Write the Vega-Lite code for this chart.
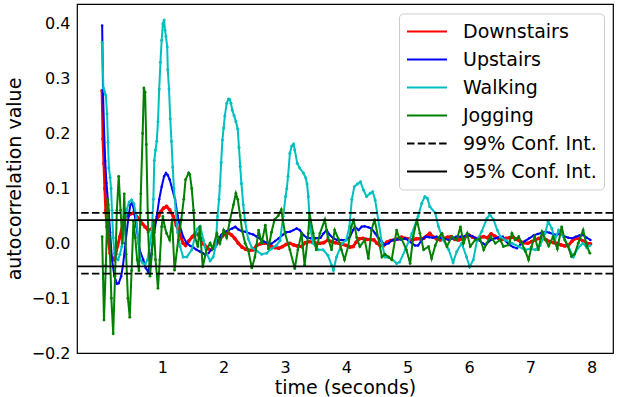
{
  "$schema": "https://vega.github.io/schema/vega-lite/v6.json",
  "autosize": "none",
  "width": 536,
  "height": 349,
  "padding": {"left": 77, "top": 4, "right": 5, "bottom": 44},
  "background": "white",
  "config": {
    "font": "DejaVu Sans",
    "view": {"stroke": "black", "strokeWidth": 1.2},
    "axis": {"grid": false, "domain": false, "ticks": false, "tickSize": 0, "labelFont": "DejaVu Sans", "titleFont": "DejaVu Sans", "labelColor": "black", "titleColor": "black", "titleFontWeight": "normal", "labelFontSize": 16, "titleFontSize": 19},
    "legend": {"orient": "none", "legendX": 322, "legendY": 9.5, "labelFont": "DejaVu Sans", "labelFontSize": 19, "labelColor": "black", "symbolType": "stroke", "symbolSize": 1600, "symbolStrokeWidth": 2, "clipHeight": 22, "rowPadding": 6, "padding": 7, "labelOffset": 15, "fillColor": "rgba(255,255,255,0.8)", "strokeColor": "#cccccc", "cornerRadius": 4}
  },
  "datasets": {
    "D": [{"t":0.02,"v":0.278},{"t":0.035,"v":0.19},{"t":0.05,"v":0.146},{"t":0.065,"v":0.1},{"t":0.08,"v":0.06},{"t":0.1,"v":0.03},{"t":0.12,"v":0.006},{"t":0.15,"v":-0.018},{"t":0.18,"v":-0.028},{"t":0.21,"v":-0.03},{"t":0.24,"v":-0.02},{"t":0.27,"v":-0.005},{"t":0.31,"v":0.012},{"t":0.36,"v":0.036},{"t":0.42,"v":0.052},{"t":0.47,"v":0.053},{"t":0.53,"v":0.055},{"t":0.58,"v":0.049},{"t":0.63,"v":0.043},{"t":0.68,"v":0.035},{"t":0.72,"v":0.03},{"t":0.77,"v":0.024},{"t":0.83,"v":0.026},{"t":0.88,"v":0.039},{"t":0.94,"v":0.049},{"t":0.98,"v":0.058},{"t":1.02,"v":0.064},{"t":1.07,"v":0.067},{"t":1.12,"v":0.061},{"t":1.18,"v":0.049},{"t":1.23,"v":0.033},{"t":1.29,"v":0.015},{"t":1.34,"v":0.0},{"t":1.38,"v":-0.004},{"t":1.43,"v":0.004},{"t":1.49,"v":0.012},{"t":1.54,"v":0.018},{"t":1.58,"v":0.016},{"t":1.63,"v":0.008},{"t":1.68,"v":-0.002},{"t":1.73,"v":-0.008},{"t":1.78,"v":-0.012},{"t":1.83,"v":-0.009},{"t":1.88,"v":-0.002},{"t":1.93,"v":0.006},{"t":1.98,"v":0.013},{"t":2.03,"v":0.017},{"t":2.08,"v":0.019},{"t":2.13,"v":0.015},{"t":2.18,"v":0.009},{"t":2.24,"v":0.0},{"t":2.3,"v":-0.007},{"t":2.36,"v":-0.011},{"t":2.42,"v":-0.013},{"t":2.48,"v":-0.012},{"t":2.54,"v":-0.004},{"t":2.6,"v":-0.001},{"t":2.66,"v":0.0},{"t":2.72,"v":0.0},{"t":2.78,"v":-0.006},{"t":2.84,"v":-0.008},{"t":2.9,"v":-0.009},{"t":2.96,"v":-0.006},{"t":3.02,"v":-0.002},{"t":3.08,"v":0.0},{"t":3.14,"v":-0.003},{"t":3.2,"v":-0.005},{"t":3.27,"v":-0.006},{"t":3.33,"v":0.001},{"t":3.39,"v":0.003},{"t":3.45,"v":0.002},{"t":3.51,"v":0.0},{"t":3.57,"v":0.0},{"t":3.63,"v":0.001},{"t":3.7,"v":0.006},{"t":3.76,"v":0.003},{"t":3.82,"v":0.001},{"t":3.88,"v":0.0},{"t":3.94,"v":-0.002},{"t":4.0,"v":-0.004},{"t":4.06,"v":-0.007},{"t":4.11,"v":-0.006},{"t":4.16,"v":0.002},{"t":4.21,"v":0.008},{"t":4.27,"v":0.009},{"t":4.33,"v":0.007},{"t":4.39,"v":0.007},{"t":4.45,"v":0.006},{"t":4.5,"v":0.0},{"t":4.55,"v":-0.004},{"t":4.6,"v":-0.005},{"t":4.66,"v":0.002},{"t":4.72,"v":0.005},{"t":4.78,"v":0.006},{"t":4.84,"v":0.008},{"t":4.9,"v":0.011},{"t":4.96,"v":0.009},{"t":5.02,"v":0.008},{"t":5.08,"v":0.006},{"t":5.14,"v":0.008},{"t":5.2,"v":0.008},{"t":5.26,"v":0.009},{"t":5.32,"v":0.014},{"t":5.36,"v":0.018},{"t":5.41,"v":0.012},{"t":5.47,"v":0.008},{"t":5.53,"v":0.006},{"t":5.59,"v":0.009},{"t":5.65,"v":0.011},{"t":5.71,"v":0.012},{"t":5.77,"v":0.007},{"t":5.83,"v":0.006},{"t":5.89,"v":0.008},{"t":5.95,"v":0.013},{"t":6.0,"v":0.015},{"t":6.06,"v":0.011},{"t":6.12,"v":0.008},{"t":6.18,"v":0.011},{"t":6.24,"v":0.012},{"t":6.3,"v":0.01},{"t":6.36,"v":0.017},{"t":6.42,"v":0.013},{"t":6.48,"v":0.009},{"t":6.54,"v":0.007},{"t":6.6,"v":0.009},{"t":6.66,"v":0.01},{"t":6.72,"v":0.011},{"t":6.78,"v":0.007},{"t":6.84,"v":0.003},{"t":6.9,"v":0.001},{"t":6.96,"v":0.0},{"t":7.02,"v":0.003},{"t":7.08,"v":0.006},{"t":7.14,"v":0.009},{"t":7.2,"v":0.009},{"t":7.26,"v":0.006},{"t":7.32,"v":0.003},{"t":7.38,"v":0.001},{"t":7.44,"v":0.0},{"t":7.5,"v":-0.003},{"t":7.56,"v":-0.005},{"t":7.62,"v":-0.004},{"t":7.68,"v":0.004},{"t":7.74,"v":0.009},{"t":7.8,"v":0.008},{"t":7.86,"v":0.004},{"t":7.92,"v":0.0},{"t":7.98,"v":-0.001}],
    "U": [{"t":0.02,"v":0.397},{"t":0.035,"v":0.27},{"t":0.05,"v":0.21},{"t":0.07,"v":0.15},{"t":0.09,"v":0.11},{"t":0.12,"v":0.07},{"t":0.15,"v":0.02},{"t":0.18,"v":-0.03},{"t":0.22,"v":-0.06},{"t":0.26,"v":-0.074},{"t":0.29,"v":-0.073},{"t":0.33,"v":-0.06},{"t":0.36,"v":-0.04},{"t":0.4,"v":0.0},{"t":0.45,"v":0.049},{"t":0.48,"v":0.07},{"t":0.51,"v":0.073},{"t":0.54,"v":0.06},{"t":0.58,"v":0.03},{"t":0.63,"v":-0.012},{"t":0.69,"v":-0.03},{"t":0.73,"v":-0.045},{"t":0.77,"v":-0.052},{"t":0.8,"v":-0.035},{"t":0.83,"v":-0.012},{"t":0.87,"v":0.02},{"t":0.91,"v":0.049},{"t":0.95,"v":0.08},{"t":0.99,"v":0.103},{"t":1.03,"v":0.122},{"t":1.06,"v":0.128},{"t":1.09,"v":0.124},{"t":1.12,"v":0.116},{"t":1.16,"v":0.1},{"t":1.21,"v":0.079},{"t":1.25,"v":0.05},{"t":1.29,"v":0.03},{"t":1.34,"v":0.012},{"t":1.4,"v":0.0},{"t":1.46,"v":-0.005},{"t":1.51,"v":-0.008},{"t":1.56,"v":-0.012},{"t":1.61,"v":-0.015},{"t":1.66,"v":-0.018},{"t":1.7,"v":-0.021},{"t":1.75,"v":-0.018},{"t":1.8,"v":-0.012},{"t":1.85,"v":-0.003},{"t":1.91,"v":0.006},{"t":1.96,"v":0.015},{"t":2.02,"v":0.021},{"t":2.08,"v":0.024},{"t":2.14,"v":0.027},{"t":2.19,"v":0.03},{"t":2.24,"v":0.025},{"t":2.3,"v":0.022},{"t":2.36,"v":0.021},{"t":2.42,"v":0.018},{"t":2.48,"v":0.016},{"t":2.54,"v":0.012},{"t":2.6,"v":0.008},{"t":2.66,"v":0.003},{"t":2.72,"v":0.0},{"t":2.78,"v":-0.001},{"t":2.84,"v":0.004},{"t":2.9,"v":0.009},{"t":2.96,"v":0.015},{"t":3.02,"v":0.02},{"t":3.08,"v":0.021},{"t":3.14,"v":0.024},{"t":3.19,"v":0.027},{"t":3.24,"v":0.024},{"t":3.3,"v":0.015},{"t":3.36,"v":0.01},{"t":3.42,"v":0.009},{"t":3.5,"v":0.009},{"t":3.58,"v":0.01},{"t":3.63,"v":0.018},{"t":3.68,"v":0.024},{"t":3.73,"v":0.015},{"t":3.79,"v":0.009},{"t":3.85,"v":0.006},{"t":3.92,"v":0.006},{"t":4.0,"v":0.006},{"t":4.06,"v":0.012},{"t":4.11,"v":0.024},{"t":4.14,"v":0.03},{"t":4.2,"v":0.024},{"t":4.25,"v":0.03},{"t":4.3,"v":0.031},{"t":4.36,"v":0.029},{"t":4.41,"v":0.027},{"t":4.47,"v":0.018},{"t":4.52,"v":0.01},{"t":4.57,"v":0.004},{"t":4.63,"v":-0.003},{"t":4.69,"v":0.0},{"t":4.75,"v":0.006},{"t":4.82,"v":0.007},{"t":4.89,"v":0.007},{"t":4.96,"v":0.009},{"t":5.02,"v":0.004},{"t":5.07,"v":0.0},{"t":5.12,"v":-0.004},{"t":5.17,"v":-0.004},{"t":5.23,"v":0.006},{"t":5.29,"v":0.012},{"t":5.35,"v":0.011},{"t":5.41,"v":0.01},{"t":5.47,"v":0.012},{"t":5.53,"v":0.01},{"t":5.6,"v":0.008},{"t":5.67,"v":0.006},{"t":5.73,"v":0.009},{"t":5.79,"v":0.012},{"t":5.86,"v":0.012},{"t":5.93,"v":0.013},{"t":5.99,"v":0.015},{"t":6.05,"v":0.013},{"t":6.1,"v":0.01},{"t":6.16,"v":0.006},{"t":6.22,"v":0.0},{"t":6.27,"v":-0.003},{"t":6.32,"v":0.003},{"t":6.37,"v":0.007},{"t":6.43,"v":0.009},{"t":6.49,"v":0.011},{"t":6.55,"v":0.012},{"t":6.6,"v":0.004},{"t":6.66,"v":-0.003},{"t":6.72,"v":-0.007},{"t":6.78,"v":-0.009},{"t":6.84,"v":-0.002},{"t":6.91,"v":0.004},{"t":6.98,"v":0.009},{"t":7.05,"v":0.014},{"t":7.12,"v":0.017},{"t":7.19,"v":0.019},{"t":7.25,"v":0.021},{"t":7.31,"v":0.019},{"t":7.37,"v":0.017},{"t":7.43,"v":0.015},{"t":7.49,"v":0.018},{"t":7.55,"v":0.013},{"t":7.62,"v":0.01},{"t":7.68,"v":0.009},{"t":7.74,"v":0.012},{"t":7.8,"v":0.014},{"t":7.86,"v":0.015},{"t":7.92,"v":0.01},{"t":7.98,"v":0.006}],
    "W": [{"t":0.02,"v":0.366},{"t":0.04,"v":0.283},{"t":0.06,"v":0.276},{"t":0.08,"v":0.27},{"t":0.1,"v":0.236},{"t":0.115,"v":0.184},{"t":0.13,"v":0.137},{"t":0.15,"v":0.12},{"t":0.165,"v":0.1},{"t":0.18,"v":0.06},{"t":0.2,"v":0.01},{"t":0.22,"v":-0.018},{"t":0.25,"v":-0.028},{"t":0.28,"v":-0.03},{"t":0.31,"v":-0.02},{"t":0.34,"v":-0.006},{"t":0.38,"v":0.03},{"t":0.42,"v":0.061},{"t":0.46,"v":0.075},{"t":0.5,"v":0.079},{"t":0.54,"v":0.072},{"t":0.58,"v":0.045},{"t":0.61,"v":0.0},{"t":0.64,"v":-0.03},{"t":0.68,"v":-0.036},{"t":0.72,"v":-0.038},{"t":0.76,"v":-0.03},{"t":0.8,"v":0.0},{"t":0.83,"v":0.024},{"t":0.855,"v":0.08},{"t":0.87,"v":0.151},{"t":0.89,"v":0.17},{"t":0.91,"v":0.186},{"t":0.93,"v":0.222},{"t":0.95,"v":0.281},{"t":0.97,"v":0.33},{"t":0.99,"v":0.37},{"t":1.01,"v":0.4},{"t":1.03,"v":0.407},{"t":1.045,"v":0.388},{"t":1.06,"v":0.377},{"t":1.08,"v":0.358},{"t":1.09,"v":0.316},{"t":1.11,"v":0.281},{"t":1.13,"v":0.227},{"t":1.15,"v":0.186},{"t":1.17,"v":0.139},{"t":1.19,"v":0.1},{"t":1.22,"v":0.06},{"t":1.25,"v":0.02},{"t":1.29,"v":-0.006},{"t":1.34,"v":-0.025},{"t":1.4,"v":-0.025},{"t":1.48,"v":-0.012},{"t":1.53,"v":0.01},{"t":1.57,"v":0.026},{"t":1.62,"v":0.031},{"t":1.67,"v":0.006},{"t":1.72,"v":-0.018},{"t":1.78,"v":-0.032},{"t":1.83,"v":-0.025},{"t":1.87,"v":-0.006},{"t":1.9,"v":0.049},{"t":1.925,"v":0.08},{"t":1.94,"v":0.105},{"t":1.96,"v":0.147},{"t":1.98,"v":0.188},{"t":2.0,"v":0.21},{"t":2.02,"v":0.232},{"t":2.05,"v":0.255},{"t":2.08,"v":0.263},{"t":2.1,"v":0.262},{"t":2.12,"v":0.255},{"t":2.14,"v":0.243},{"t":2.17,"v":0.233},{"t":2.2,"v":0.222},{"t":2.23,"v":0.208},{"t":2.25,"v":0.175},{"t":2.27,"v":0.14},{"t":2.29,"v":0.109},{"t":2.32,"v":0.07},{"t":2.35,"v":0.04},{"t":2.4,"v":0.008},{"t":2.46,"v":-0.008},{"t":2.54,"v":-0.014},{"t":2.62,"v":-0.02},{"t":2.7,"v":-0.018},{"t":2.78,"v":-0.01},{"t":2.86,"v":-0.004},{"t":2.92,"v":0.005},{"t":2.97,"v":0.049},{"t":3.01,"v":0.085},{"t":3.03,"v":0.1},{"t":3.05,"v":0.122},{"t":3.08,"v":0.164},{"t":3.11,"v":0.177},{"t":3.14,"v":0.181},{"t":3.16,"v":0.17},{"t":3.2,"v":0.146},{"t":3.24,"v":0.137},{"t":3.3,"v":0.128},{"t":3.34,"v":0.119},{"t":3.36,"v":0.108},{"t":3.38,"v":0.085},{"t":3.41,"v":0.03},{"t":3.46,"v":0.0},{"t":3.54,"v":-0.012},{"t":3.62,"v":-0.012},{"t":3.7,"v":-0.022},{"t":3.76,"v":-0.04},{"t":3.79,"v":-0.049},{"t":3.84,"v":-0.025},{"t":3.93,"v":0.0},{"t":4.0,"v":0.006},{"t":4.05,"v":0.03},{"t":4.09,"v":0.08},{"t":4.13,"v":0.103},{"t":4.18,"v":0.108},{"t":4.23,"v":0.112},{"t":4.28,"v":0.097},{"t":4.33,"v":0.085},{"t":4.39,"v":0.091},{"t":4.43,"v":0.094},{"t":4.47,"v":0.079},{"t":4.52,"v":0.043},{"t":4.58,"v":0.0},{"t":4.63,"v":-0.025},{"t":4.74,"v":-0.028},{"t":4.82,"v":-0.037},{"t":4.87,"v":-0.034},{"t":4.96,"v":-0.012},{"t":5.07,"v":0.018},{"t":5.17,"v":0.049},{"t":5.23,"v":0.073},{"t":5.28,"v":0.085},{"t":5.32,"v":0.082},{"t":5.36,"v":0.067},{"t":5.45,"v":0.055},{"t":5.5,"v":0.031},{"t":5.58,"v":0.006},{"t":5.67,"v":-0.012},{"t":5.74,"v":-0.035},{"t":5.8,"v":-0.015},{"t":5.88,"v":0.0},{"t":5.96,"v":-0.025},{"t":6.01,"v":-0.043},{"t":6.07,"v":-0.03},{"t":6.13,"v":0.005},{"t":6.21,"v":0.022},{"t":6.29,"v":0.045},{"t":6.34,"v":0.052},{"t":6.4,"v":0.043},{"t":6.46,"v":0.024},{"t":6.51,"v":0.012},{"t":6.59,"v":0.006},{"t":6.7,"v":0.0},{"t":6.81,"v":-0.006},{"t":6.91,"v":-0.012},{"t":7.0,"v":-0.01},{"t":7.08,"v":-0.012},{"t":7.16,"v":-0.004},{"t":7.24,"v":0.018},{"t":7.29,"v":0.04},{"t":7.35,"v":0.027},{"t":7.4,"v":0.006},{"t":7.46,"v":0.024},{"t":7.54,"v":0.012},{"t":7.62,"v":-0.006},{"t":7.7,"v":-0.025},{"t":7.78,"v":-0.008},{"t":7.86,"v":0.0},{"t":7.92,"v":-0.008},{"t":7.97,"v":-0.004}],
    "J": [{"t":0.02,"v":0.012},{"t":0.05,"v":-0.14},{"t":0.08,"v":-0.04},{"t":0.11,"v":0.08},{"t":0.14,"v":0.01},{"t":0.17,"v":-0.1},{"t":0.2,"v":-0.165},{"t":0.23,"v":-0.06},{"t":0.26,"v":0.06},{"t":0.29,"v":0.122},{"t":0.32,"v":0.06},{"t":0.35,"v":0.0},{"t":0.38,"v":0.09},{"t":0.41,"v":-0.02},{"t":0.44,"v":-0.1},{"t":0.47,"v":-0.135},{"t":0.5,"v":-0.05},{"t":0.53,"v":0.04},{"t":0.56,"v":0.01},{"t":0.59,"v":-0.03},{"t":0.62,"v":-0.05},{"t":0.65,"v":0.09},{"t":0.68,"v":0.2},{"t":0.7,"v":0.283},{"t":0.72,"v":0.275},{"t":0.74,"v":0.18},{"t":0.77,"v":0.02},{"t":0.8,"v":-0.06},{"t":0.83,"v":-0.02},{"t":0.86,"v":0.04},{"t":0.89,"v":-0.03},{"t":0.93,"v":-0.082},{"t":0.96,"v":-0.03},{"t":0.99,"v":0.03},{"t":1.01,"v":0.049},{"t":1.04,"v":0.03},{"t":1.07,"v":0.018},{"t":1.12,"v":0.006},{"t":1.16,"v":0.043},{"t":1.2,"v":-0.049},{"t":1.26,"v":0.006},{"t":1.31,"v":0.043},{"t":1.35,"v":0.08},{"t":1.38,"v":0.116},{"t":1.43,"v":0.128},{"t":1.45,"v":0.125},{"t":1.48,"v":0.1},{"t":1.51,"v":0.06},{"t":1.53,"v":0.012},{"t":1.58,"v":-0.006},{"t":1.61,"v":0.03},{"t":1.66,"v":-0.043},{"t":1.72,"v":-0.012},{"t":1.78,"v":0.0},{"t":1.82,"v":-0.01},{"t":1.89,"v":0.018},{"t":1.94,"v":0.0},{"t":2.0,"v":0.024},{"t":2.05,"v":0.01},{"t":2.1,"v":0.04},{"t":2.16,"v":0.07},{"t":2.2,"v":0.091},{"t":2.23,"v":0.08},{"t":2.27,"v":0.05},{"t":2.3,"v":0.024},{"t":2.35,"v":0.0},{"t":2.4,"v":-0.012},{"t":2.46,"v":-0.045},{"t":2.51,"v":-0.025},{"t":2.57,"v":0.024},{"t":2.62,"v":0.0},{"t":2.68,"v":0.033},{"t":2.73,"v":-0.01},{"t":2.78,"v":0.02},{"t":2.83,"v":0.043},{"t":2.89,"v":0.05},{"t":2.94,"v":0.061},{"t":3.0,"v":0.018},{"t":3.08,"v":-0.012},{"t":3.16,"v":-0.046},{"t":3.21,"v":-0.012},{"t":3.27,"v":0.018},{"t":3.32,"v":-0.04},{"t":3.38,"v":0.018},{"t":3.4,"v":0.055},{"t":3.46,"v":0.018},{"t":3.51,"v":-0.012},{"t":3.57,"v":0.018},{"t":3.65,"v":0.043},{"t":3.7,"v":0.01},{"t":3.76,"v":-0.012},{"t":3.81,"v":0.024},{"t":3.87,"v":0.008},{"t":3.92,"v":-0.012},{"t":3.97,"v":-0.03},{"t":4.03,"v":-0.006},{"t":4.08,"v":0.03},{"t":4.12,"v":0.043},{"t":4.17,"v":0.01},{"t":4.22,"v":-0.006},{"t":4.3,"v":0.006},{"t":4.36,"v":-0.028},{"t":4.41,"v":0.024},{"t":4.46,"v":0.043},{"t":4.52,"v":0.01},{"t":4.58,"v":-0.025},{"t":4.63,"v":-0.02},{"t":4.69,"v":-0.025},{"t":4.74,"v":-0.03},{"t":4.82,"v":0.024},{"t":4.86,"v":0.01},{"t":4.9,"v":0.008},{"t":4.98,"v":-0.012},{"t":5.04,"v":-0.037},{"t":5.09,"v":0.012},{"t":5.15,"v":0.043},{"t":5.2,"v":0.018},{"t":5.26,"v":-0.012},{"t":5.34,"v":-0.006},{"t":5.39,"v":-0.028},{"t":5.45,"v":-0.004},{"t":5.5,"v":0.01},{"t":5.56,"v":0.018},{"t":5.64,"v":-0.006},{"t":5.72,"v":0.012},{"t":5.8,"v":0.006},{"t":5.86,"v":0.03},{"t":5.91,"v":0.0},{"t":5.97,"v":0.018},{"t":6.02,"v":-0.006},{"t":6.1,"v":0.006},{"t":6.18,"v":0.008},{"t":6.24,"v":-0.012},{"t":6.29,"v":0.0},{"t":6.35,"v":0.012},{"t":6.43,"v":0.0},{"t":6.51,"v":0.006},{"t":6.56,"v":-0.006},{"t":6.65,"v":-0.003},{"t":6.7,"v":0.018},{"t":6.75,"v":0.006},{"t":6.81,"v":0.012},{"t":6.86,"v":0.0},{"t":6.92,"v":-0.015},{"t":6.97,"v":-0.03},{"t":7.02,"v":-0.006},{"t":7.07,"v":0.012},{"t":7.13,"v":-0.012},{"t":7.19,"v":0.021},{"t":7.25,"v":0.006},{"t":7.3,"v":-0.005},{"t":7.37,"v":0.012},{"t":7.44,"v":-0.01},{"t":7.51,"v":0.03},{"t":7.56,"v":0.006},{"t":7.61,"v":-0.005},{"t":7.67,"v":-0.024},{"t":7.72,"v":-0.02},{"t":7.78,"v":0.0},{"t":7.86,"v":0.024},{"t":7.92,"v":-0.005},{"t":7.97,"v":-0.018}],
    "CI": [{"c":"99% Conf. Int.","y":0.0554},{"c":"99% Conf. Int.","y":-0.0554},{"c":"95% Conf. Int.","y":0.0421},{"c":"95% Conf. Int.","y":-0.0421}]
  },
  "encoding": {
    "x": {"field": "t", "type": "quantitative", "scale": {"domain": [-0.39, 8.347], "nice": false, "zero": false}, "axis": {"values": [1,2,3,4,5,6,7,8], "format": "d", "title": "time (seconds)", "labelPadding": 6, "titlePadding": 3}},
    "y": {"field": "v", "type": "quantitative", "scale": {"domain": [-0.2, 0.436], "nice": false, "zero": false}, "axis": {"values": [-0.2,-0.1,0,0.1,0.2,0.3,0.4], "format": ".1f", "title": "autocorrelation value", "labelPadding": 7, "titlePadding": 7}}
  },
  "layer": [
    {"data": {"name": "D"}, "mark": {"type": "line", "strokeWidth": 3, "point": {"filled": true, "size": 14}},
     "encoding": {"color": {"datum": "Downstairs", "scale": {"domain": ["Downstairs","Upstairs","Walking","Jogging","99% Conf. Int.","95% Conf. Int."], "range": ["#ff0000","#0000ff","#00bfbf","#008000","#000000","#000000"]}, "legend": {"title": null}}}},
    {"data": {"name": "U"}, "mark": {"type": "line", "strokeWidth": 2, "point": {"filled": true, "size": 6}},
     "encoding": {"color": {"datum": "Upstairs", "scale": {"domain": ["Downstairs","Upstairs","Walking","Jogging","99% Conf. Int.","95% Conf. Int."], "range": ["#ff0000","#0000ff","#00bfbf","#008000","#000000","#000000"]}, "legend": {"title": null}}}},
    {"data": {"name": "W"}, "mark": {"type": "line", "strokeWidth": 2, "point": {"filled": true, "size": 9}},
     "encoding": {"color": {"datum": "Walking", "scale": {"domain": ["Downstairs","Upstairs","Walking","Jogging","99% Conf. Int.","95% Conf. Int."], "range": ["#ff0000","#0000ff","#00bfbf","#008000","#000000","#000000"]}, "legend": {"title": null}}}},
    {"data": {"name": "J"}, "mark": {"type": "line", "strokeWidth": 2, "point": {"filled": true, "size": 8}},
     "encoding": {"color": {"datum": "Jogging", "scale": {"domain": ["Downstairs","Upstairs","Walking","Jogging","99% Conf. Int.","95% Conf. Int."], "range": ["#ff0000","#0000ff","#00bfbf","#008000","#000000","#000000"]}, "legend": {"title": null}}}},
    {"data": {"name": "CI"}, "mark": {"type": "rule", "strokeWidth": 1.6},
     "encoding": {
       "x": null,
       "y": {"field": "y", "type": "quantitative"},
       "color": {"field": "c", "type": "nominal", "scale": {"domain": ["Downstairs","Upstairs","Walking","Jogging","99% Conf. Int.","95% Conf. Int."], "range": ["#ff0000","#0000ff","#00bfbf","#008000","#000000","#000000"]}, "legend": {"title": null}},
       "strokeDash": {"field": "c", "type": "nominal", "scale": {"domain": ["Downstairs","Upstairs","Walking","Jogging","99% Conf. Int.","95% Conf. Int."], "range": [[1,0],[1,0],[1,0],[1,0],[7.5,3.2],[1,0]]}, "legend": {"title": null}}
     }}
  ],
  "resolve": {"scale": {"color": "shared"}}
}
